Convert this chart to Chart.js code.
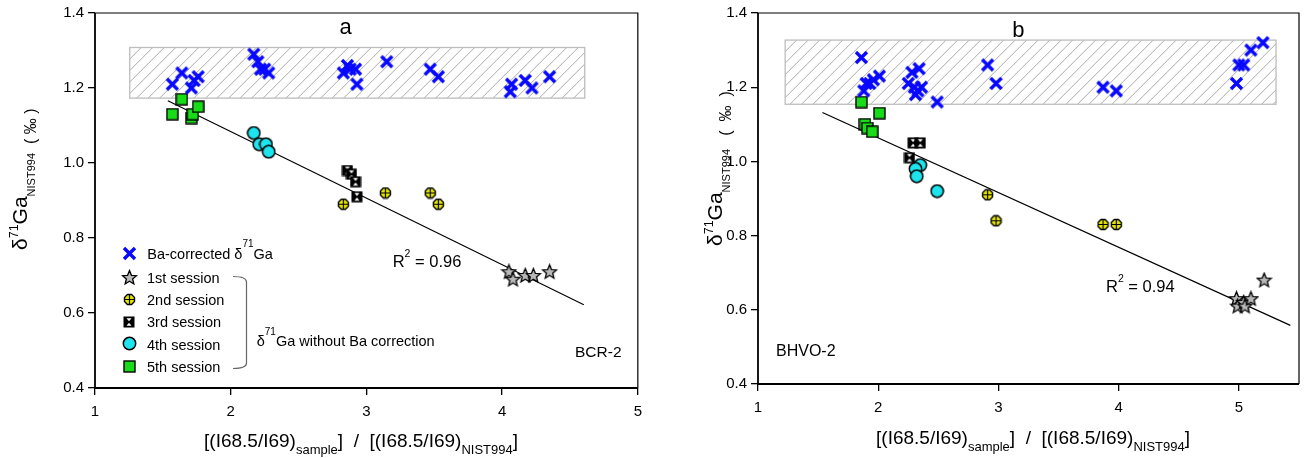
<!DOCTYPE html>
<html><head><meta charset="utf-8">
<script src="https://cdn.jsdelivr.net/npm/chart.js@4.4.1/dist/chart.umd.min.js"></script>
<style>
html,body{margin:0;padding:0;background:#fff;width:1306px;height:458px;overflow:hidden}
canvas{position:absolute;top:0}
#ca{left:0}
#cb{left:650px}
</style></head><body>
<canvas id="ca" width="650" height="458"></canvas>
<canvas id="cb" width="656" height="458"></canvas>
<script>
// ---------------- data ----------------
const xTicks = [1, 2, 3, 4, 5];
const yTicks = [0.4, 0.6, 0.8, 1.0, 1.2, 1.4];

// Panel a : BCR-2
const bcrBa = [[1.57,1.21],[1.64,1.24],[1.71,1.20],[1.73,1.22],[1.76,1.23],
  [2.17,1.29],[2.20,1.27],[2.22,1.25],[2.25,1.25],[2.28,1.24],
  [2.83,1.24],[2.86,1.26],[2.88,1.25],[2.92,1.25],[2.93,1.21],
  [3.15,1.27],[3.47,1.25],[3.53,1.23],
  [4.06,1.19],[4.07,1.21],[4.17,1.22],[4.22,1.20],[4.35,1.23]];
const bcrS1 = [[4.05,0.71],[4.08,0.69],[4.17,0.70],[4.23,0.70],[4.35,0.71]];
const bcrS2 = [[2.83,0.89],[3.14,0.92],[3.47,0.92],[3.53,0.89]];
const bcrS3 = [[2.86,0.98],[2.89,0.97],[2.92,0.95],[2.93,0.91]];
const bcrS4 = [[2.17,1.08],[2.21,1.05],[2.26,1.05],[2.28,1.03]];
const bcrS5 = [[1.57,1.13],[1.64,1.17],[1.71,1.12],[1.72,1.13],[1.76,1.15]];
const bcrFit = [[1.537,1.166],[4.602,0.622]];
const bcrBandX = [1.256, 4.609];
const bcrBandY = [1.173, 1.308];

// Panel b : BHVO-2
const bhvoBa = [[1.86,1.28],[1.88,1.19],[1.90,1.21],[1.93,1.21],[1.96,1.22],[2.01,1.23],
  [2.28,1.24],[2.34,1.25],[2.25,1.21],[2.30,1.20],[2.33,1.19],[2.31,1.18],[2.36,1.20],[2.49,1.16],
  [2.91,1.26],[2.98,1.21],[3.87,1.20],[3.98,1.19],
  [4.98,1.21],[5.00,1.26],[5.04,1.26],[5.10,1.30],[5.20,1.32]];
const bhvoS1 = [[4.98,0.63],[4.99,0.61],[5.04,0.62],[5.05,0.61],[5.10,0.63],[5.21,0.68]];
const bhvoS2 = [[2.91,0.91],[2.98,0.84],[3.87,0.83],[3.98,0.83]];
const bhvoS3 = [[2.29,1.05],[2.35,1.05],[2.26,1.01]];
const bhvoS4 = [[2.35,0.99],[2.31,0.98],[2.32,0.96],[2.49,0.92]];
const bhvoS5 = [[1.86,1.16],[2.01,1.13],[1.89,1.10],[1.91,1.09],[1.95,1.08]];
const bhvoFit = [[1.536,1.132],[5.428,0.558]];
const bhvoBandX = [1.226, 5.309];
const bhvoBandY = [1.154, 1.327];

const legendLabels = ['Ba-corrected δ', '1st session', '2nd session', '3rd session', '4th session', '5th session'];

// ---------------- markers ----------------
const FONT = '"Liberation Sans", Arial, Helvetica, sans-serif';
function mk(w, h, fn){ const c=document.createElement('canvas'); c.width=w; c.height=h; fn(c.getContext('2d')); return c; }
const imgX = mk(15,15,g=>{g.strokeStyle='#0808ff';g.lineWidth=3.4;g.beginPath();g.moveTo(2,2);g.lineTo(13,13);g.moveTo(13,2);g.lineTo(2,13);g.stroke();});
const imgStar = mk(17,17,g=>{g.beginPath();for(let i=0;i<10;i++){const r=i%2?3.3:7.4;const a=-Math.PI/2+i*Math.PI/5;g.lineTo(8.5+r*Math.cos(a),9+r*Math.sin(a));}g.closePath();g.fillStyle='#b8b8b8';g.fill();g.lineWidth=1.3;g.strokeStyle='#000';g.stroke();});
const imgHex = mk(13,13,g=>{g.beginPath();for(let i=0;i<8;i++){const a=Math.PI/8+i*Math.PI/4;g.lineTo(6.5+5.4*Math.cos(a),6.5+5.4*Math.sin(a));}g.closePath();g.fillStyle='#e8e800';g.fill();g.lineWidth=1.4;g.strokeStyle='#000';g.stroke();g.beginPath();g.moveTo(6.5,1.8);g.lineTo(6.5,11.2);g.moveTo(1.8,6.5);g.lineTo(11.2,6.5);g.lineWidth=1.2;g.stroke();});
const imgHour = mk(12,12,g=>{g.fillStyle='#000';g.fillRect(0.5,0.5,11,11);g.fillStyle='#fff';g.beginPath();g.moveTo(3.5,2.3);g.lineTo(8.5,2.3);g.lineTo(6,5.3);g.closePath();g.fill();g.beginPath();g.moveTo(3.5,9.7);g.lineTo(8.5,9.7);g.lineTo(6,6.7);g.closePath();g.fill();});
const imgCirc = mk(15,15,g=>{g.beginPath();g.arc(7.5,7.5,6.2,0,2*Math.PI);g.fillStyle='#1ee4ee';g.fill();g.lineWidth=1.5;g.strokeStyle='#000';g.stroke();});
const imgSq = mk(13,13,g=>{g.fillStyle='#18dc18';g.fillRect(1,1,11,11);g.lineWidth=1.4;g.strokeStyle='#000';g.strokeRect(1,1,11,11);});
const legendImgs = [imgX, imgStar, imgHex, imgHour, imgCirc, imgSq];

// ---------------- helpers ----------------
function rich(ctx, x, y, parts, align){
  let w = 0;
  parts.forEach(p=>{ ctx.font = p[1]+'px '+FONT; w += ctx.measureText(p[0]).width; });
  let cx = align==='center' ? x-w/2 : (align==='right' ? x-w : x);
  ctx.textAlign='left'; ctx.textBaseline='alphabetic'; ctx.fillStyle='#000';
  parts.forEach(p=>{ ctx.font = p[1]+'px '+FONT; ctx.fillText(p[0], cx, y+(p[2]||0)); cx += ctx.measureText(p[0]).width; });
}
function ds(pairs, img){ return {data: pairs.map(p=>({x:p[0], y:p[1]})), pointStyle: img, pointRadius: 6, pointHoverRadius: 6, order: 1}; }
function fitDs(pairs){ return {data: pairs.map(p=>({x:p[0], y:p[1]})), showLine: true, borderColor:'#000', borderWidth: 1.2, pointRadius: 0, order: 5}; }

const bandPlugin = {
  id:'band',
  beforeDatasetsDraw(chart, args, o){
    const {ctx, scales:{x, y}} = chart;
    const x0=x.getPixelForValue(o.bx[0]), x1=x.getPixelForValue(o.bx[1]);
    const y0=y.getPixelForValue(o.by[1]), y1=y.getPixelForValue(o.by[0]);
    ctx.save();
    ctx.beginPath(); ctx.rect(x0,y0,x1-x0,y1-y0); ctx.clip();
    ctx.strokeStyle='#a0a0a0'; ctx.lineWidth=0.9;
    const h=y1-y0;
    for(let sx=x0-h; sx<x1+h; sx+=11.5){ ctx.beginPath(); ctx.moveTo(sx,y1); ctx.lineTo(sx+h,y0); ctx.stroke(); }
    ctx.restore();
    ctx.save(); ctx.strokeStyle='#bdbdbd'; ctx.lineWidth=1.3; ctx.strokeRect(x0,y0,x1-x0,y1-y0); ctx.restore();
  }
};
const framePlugin = {
  id:'frame',
  afterDraw(chart, args, o){
    const {ctx, chartArea:a} = chart;
    ctx.save(); ctx.strokeStyle='#000';
    ctx.lineWidth=1.2; ctx.beginPath(); ctx.moveTo(a.left,a.top); ctx.lineTo(a.right,a.top); ctx.lineTo(a.right,a.bottom); ctx.stroke();
    ctx.lineWidth=1.8; ctx.beginPath(); ctx.moveTo(a.left,a.top); ctx.lineTo(a.left,a.bottom); ctx.lineTo(a.right,a.bottom); ctx.stroke();
    ctx.restore();
    if (o.draw) o.draw(ctx, chart);
  }
};

function makeChart(id, c){
  return new Chart(document.getElementById(id), {
    type:'scatter',
    data:{datasets: c.datasets},
    options:{
      responsive:false, animation:false, devicePixelRatio:1,
      layout:{padding:{left:0, right:c.padRight, top:c.padTop, bottom:0}},
      plugins:{legend:{display:false}, tooltip:{enabled:false}, band:{bx:c.bandX, by:c.bandY}, frame:{draw:c.draw}},
      scales:{
        x:{type:'linear', min:1, max:c.xMax,
           afterBuildTicks: s=>{ s.ticks = xTicks.map(v=>({value:v})); },
           afterFit: s=>{ s.height = c.xH; },
           ticks:{font:{family:FONT, size:15}, color:'#000', padding:8, maxRotation:0, autoSkip:false, callback:v=>String(v)},
           grid:{drawOnChartArea:false, drawTicks:true, tickLength:7, color:'#000', lineWidth:1.3},
           border:{display:false}},
        y:{type:'linear', min:0.4, max:1.4,
           afterBuildTicks: s=>{ s.ticks = yTicks.map(v=>({value:v})); },
           afterFit: s=>{ s.width = c.yW; },
           ticks:{font:{family:FONT, size:15}, color:'#000', padding:4, autoSkip:false, callback:v=>Number(v).toFixed(1)},
           grid:{drawOnChartArea:false, drawTicks:true, tickLength:7, color:'#000', lineWidth:1.3},
           border:{display:false}}
      }
    },
    plugins:[bandPlugin, framePlugin]
  });
}

function yTitle(ctx, bx, by, tail){
  ctx.save(); ctx.translate(bx, by); ctx.rotate(-Math.PI/2);
  rich(ctx, 0, 0, [['δ',21],['71',12.5,-9.5],['Ga',21],['NIST994',11,8],[tail,16,9]], 'left');
  ctx.restore();
}
function xTitle(ctx, cx, by){
  rich(ctx, cx, by, [['[(I68.5/I69)',19],['sample',13,7],[']  /  [(I68.5/I69)',19],['NIST994',13,7],[']',19]], 'center');
}

// Panel a
makeChart('ca', {
  padRight: 9, padTop: 13, xH: 70, yW: 95, xMax: 5,
  bandX: bcrBandX, bandY: bcrBandY,
  datasets: [fitDs(bcrFit), ds(bcrBa,imgX), ds(bcrS1,imgStar), ds(bcrS2,imgHex), ds(bcrS3,imgHour), ds(bcrS4,imgCirc), ds(bcrS5,imgSq)],
  draw(ctx){
    rich(ctx, 345.5, 34, [['a',22]], 'center');
    rich(ctx, 392.7, 266.5, [['R',16.5],['2',10.5,-10],[' = 0.96',16.5]], 'left');
    rich(ctx, 575, 357, [['BCR-2',15.5]], 'left');
    yTitle(ctx, 27, 250, '  ( ‰ )');
    xTitle(ctx, 361, 447);
    // legend
    const ys = [253.3, 277.7, 299.3, 321.7, 343.3, 366];
    const bl = [259, 283, 305, 327, 350, 372];
    ys.forEach((yy,i)=>{ const im=legendImgs[i]; ctx.drawImage(im, Math.round(129.3-im.width/2), Math.round(yy-im.height/2)); });
    rich(ctx, 147.3, bl[0], [[legendLabels[0],14.5],['71',10,-12],['Ga',14.5]], 'left');
    for (let i=1;i<6;i++) rich(ctx, 147, bl[i], [[legendLabels[i],14.5]], 'left');
    ctx.save(); ctx.strokeStyle='#666'; ctx.lineWidth=1.2; ctx.beginPath();
    ctx.moveTo(233,276.5); ctx.quadraticCurveTo(246.5,276.5,246.5,282); ctx.lineTo(246.5,363); ctx.quadraticCurveTo(246.5,368.5,233,368.5); ctx.stroke(); ctx.restore();
    rich(ctx, 256.7, 345.7, [['δ',14.5],['71',10,-11],['Ga without Ba correction',14.5]], 'left');
  }
});

// Panel b
makeChart('cb', {
  padRight: 2, padTop: 13, xH: 74, yW: 108, xMax: 5.5,
  bandX: bhvoBandX, bandY: bhvoBandY,
  datasets: [fitDs(bhvoFit), ds(bhvoBa,imgX), ds(bhvoS1,imgStar), ds(bhvoS2,imgHex), ds(bhvoS3,imgHour), ds(bhvoS4,imgCirc), ds(bhvoS5,imgSq)],
  draw(ctx){
    rich(ctx, 1018.3-650, 36.7, [['b',22]], 'center');
    rich(ctx, 1106-650, 291.7, [['R',16.5],['2',10.5,-10],[' = 0.94',16.5]], 'left');
    rich(ctx, 776-650, 355.7, [['BHVO-2',16]], 'left');
    yTitle(ctx, 72, 246, '   (  ‰  )');
    xTitle(ctx, 1033-650, 444);
  }
});
</script>
</body></html>
